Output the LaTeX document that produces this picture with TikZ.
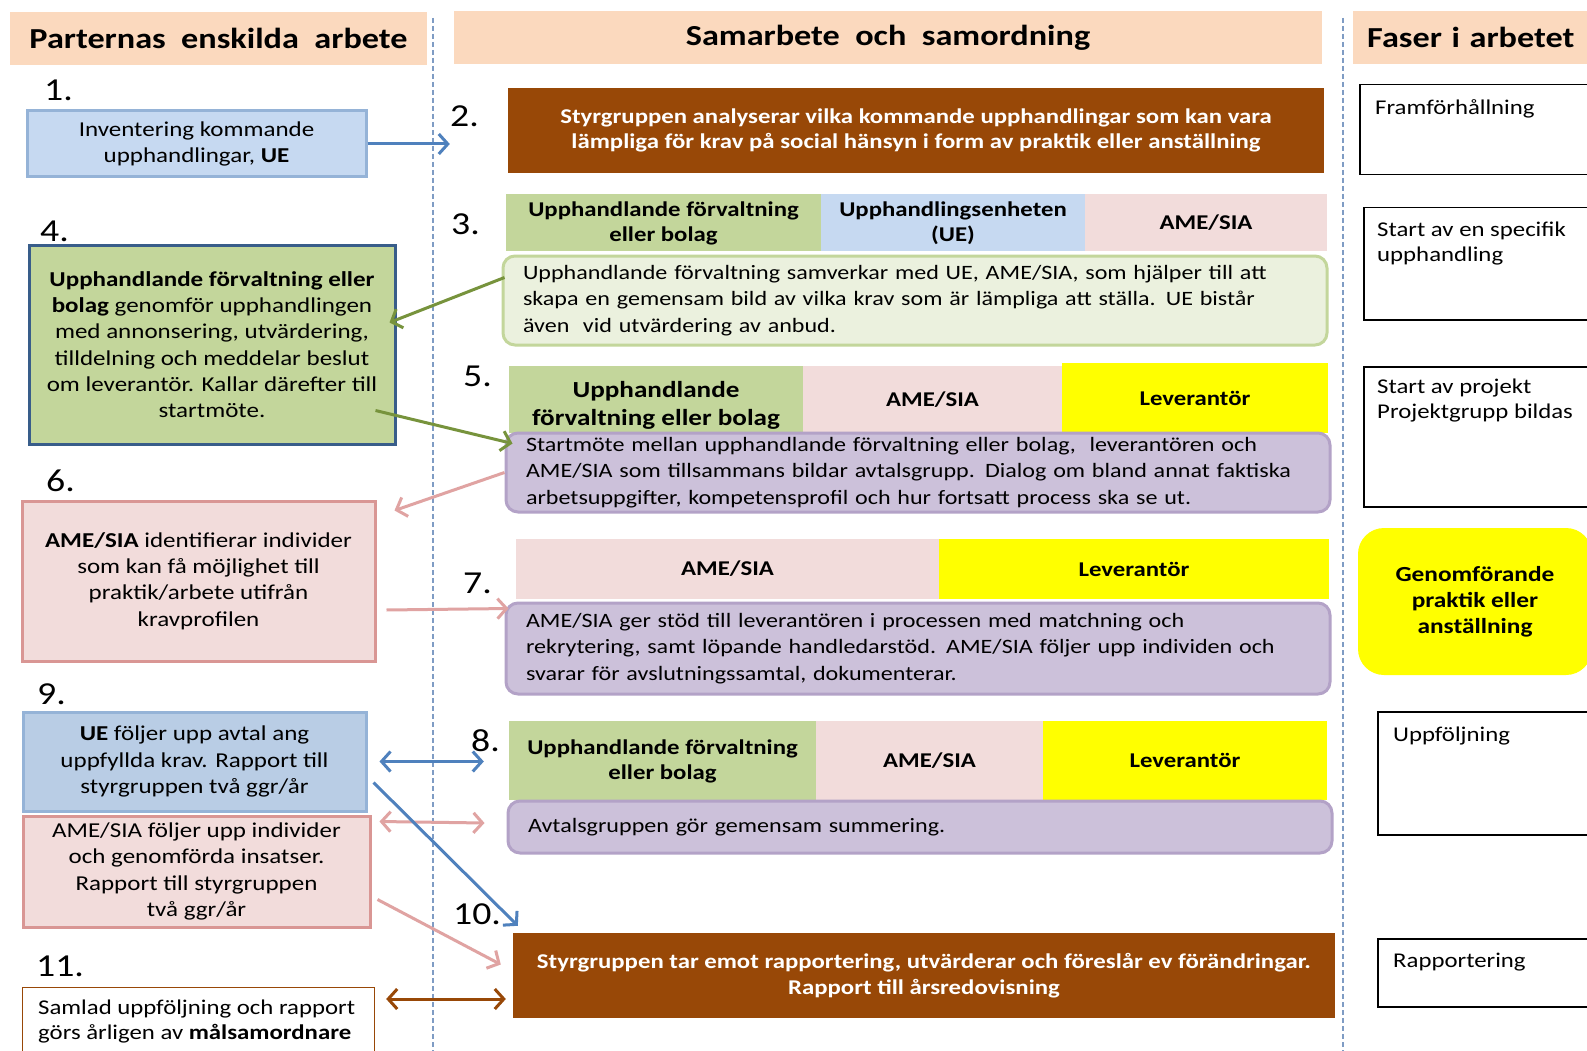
\documentclass[tikz,border=0pt]{standalone}
\usepackage{fontspec}
\setmainfont{Carlito}[FakeStretch=1.18]
\usetikzlibrary{arrows.meta,calc}
\definecolor{peach}{HTML}{FBD9BE}
\definecolor{brownc}{HTML}{984807}
\definecolor{greenc}{HTML}{C3D69B}
\definecolor{bluec}{HTML}{C6D9F1}
\definecolor{bluec2}{HTML}{B9CDE5}
\definecolor{bluebd}{HTML}{95B3D7}
\definecolor{pinkc}{HTML}{F2DCDB}
\definecolor{pinkbd}{HTML}{D99694}
\definecolor{yellowc}{HTML}{FFFF00}
\definecolor{lgreen}{HTML}{EBF1DE}
\definecolor{purplec}{HTML}{CCC1DA}
\definecolor{purplebd}{HTML}{B3A2C7}
\definecolor{navybd}{HTML}{385D8A}
\definecolor{arrblue}{HTML}{4F81BD}
\definecolor{arrgreen}{HTML}{77933C}
\definecolor{arrpink}{HTML}{E0A3A2}
\definecolor{dashc}{HTML}{7F9CC4}
\newcommand{\myfs}[2]{\fontsize{#1}{#2}\selectfont}
\begin{document}
\begin{tikzpicture}[x=1pt,y=-1pt,
  hdr/.style={fill=peach, inner sep=0pt, font=\myfs{29}{30}\bfseries},
  num/.style={anchor=base west, inner sep=0pt, font=\myfs{32}{32}},
  lbox/.style={line width=3pt, inner sep=0pt, align=center, font=\myfs{21.2}{26.3}},
  cell/.style={inner sep=0pt, align=center, font=\myfs{21}{25}\bfseries},
  rbox/.style={line width=3pt, rounded corners=12pt, inner xsep=20pt, inner ysep=0pt, align=left, font=\myfs{20.4}{26.3}},
  brbox/.style={fill=brownc, inner sep=0pt, align=center, text=white, font=\myfs{21}{25.5}\bfseries},
  phase/.style={draw=black, line width=1.5pt, fill=white, anchor=north west, inner sep=0pt},
  ptext/.style={anchor=north west, inner sep=0pt, align=left, font=\myfs{21}{25}},
  arr/.style={line width=3pt, -{Straight Barb[length=9pt,width=20pt]}},
  darr/.style={line width=3pt, {Straight Barb[length=9pt,width=20pt]}-{Straight Barb[length=9pt,width=20pt]}},
  sep/.style={draw=dashc, line width=1.3pt, dash pattern=on 5pt off 3pt}]
\useasboundingbox (0,0) rectangle (1587,1051);
\fill[white] (0,0) rectangle (1587,1051);

% separators
\coordinate (s1t) at (433,18);
\coordinate (s1b) at (433,1051);
\coordinate (s2t) at (1343,18);
\coordinate (s2b) at (1343,1051);
\draw[sep] (s1t) -- (s1b);
\draw[sep] (s2t) -- (s2b);

% headers
\node[hdr, minimum width=417pt, minimum height=53pt] (hL) at (218.5,38.5) {Parternas\ \ enskilda\ \ arbete};
\node[hdr, minimum width=868pt, minimum height=53pt] (hM) at (888,37.5) {Samarbete\ \ och\ \ samordning};
\node[hdr, anchor=west, text width=222pt, inner xsep=14pt, minimum height=53pt, align=left] (hR) at (1353,37.5) {Faser i arbetet};

% numbers
\node[num] (n1) at (44,101) {1.};
\node[num] (n2) at (450,127) {2.};
\node[num] (n3) at (451,234) {3.};
\node[num] (n4) at (40,241) {4.};
\node[num] (n5) at (463,386) {5.};
\node[num] (n6) at (46,491) {6.};
\node[num] (n7) at (463,593) {7.};
\node[num] (n8) at (471,751) {8.};
\node[num] (n9) at (37,704) {9.};
\node[num] (n10) at (453,924) {10.};
\node[num] (n11) at (36,976) {11.};

% left column
\node[lbox, draw=bluebd, fill=bluec, minimum width=339pt, minimum height=66pt] (b1) at (196.5,144)
  {Inventering kommande\\upphandlingar, \textbf{UE}};
\node[lbox, draw=navybd, fill=greenc, minimum width=366pt, minimum height=199pt] (b4) at (212,344.5)
  {\textbf{Upphandlande förvaltning eller}\\\textbf{bolag} genomför upphandlingen\\med annonsering, utvärdering,\\tilldelning och meddelar beslut\\om leverantör. Kallar därefter till\\startmöte.};
\node[lbox, draw=pinkbd, fill=pinkc, minimum width=353pt, minimum height=160pt] (b6) at (198.5,581)
  {\textbf{AME/SIA} identifierar individer\\som kan få möjlighet till\\praktik/arbete utifrån\\kravprofilen};
\node[lbox, draw=bluebd, fill=bluec2, minimum width=343pt, minimum height=99pt] (b9a) at (194.5,761.5)
  {\textbf{UE} följer upp avtal ang\\uppfyllda krav. Rapport till\\styrgruppen två ggr/år};
\node[lbox, draw=pinkbd, fill=pinkc, minimum width=347pt, minimum height=111pt] (b9b) at (196.5,871.5)
  {AME/SIA följer upp individer\\och genomförda insatser.\\Rapport till styrgruppen\\två ggr/år};
\node[lbox, draw=brownc, line width=1.2pt, fill=white, anchor=north west, minimum width=352pt, minimum height=80pt] (b11) at (22,987) {};
\node[anchor=north west, inner sep=0pt, align=left, font=\myfs{21}{25}] (t11) at (38,1000)
  {Samlad uppföljning och rapport\\görs årligen av \textbf{målsamordnare}};

% middle column
\node[brbox, minimum width=816pt, minimum height=85pt] (b2) at (916,130.5)
  {Styrgruppen analyserar vilka kommande upphandlingar som kan vara\\lämpliga för krav på social hänsyn i form av praktik eller anställning};

\node[cell, fill=greenc, minimum width=315pt, minimum height=57pt, text height=42pt, text depth=5pt] (r3a) at (663.5,222.5) {Upphandlande förvaltning\\eller bolag};
\node[cell, fill=bluec, minimum width=264pt, minimum height=57pt, text height=42pt, text depth=5pt] (r3b) at (953,222.5) {Upphandlingsenheten\\(UE)};
\node[cell, fill=pinkc, minimum width=242pt, minimum height=57pt] (r3c) at (1206,222.5) {AME/SIA};
\node[rbox, draw=greenc, fill=lgreen, text width=784pt, minimum height=89pt] (b3) at (915,300.5)
  {Upphandlande förvaltning samverkar med UE, AME/SIA, som hjälper till att\\skapa en gemensam bild av vilka krav som är lämpliga att ställa. UE bistår\\även\ \ vid utvärdering av anbud.};

\node[cell, fill=greenc, minimum width=294pt, minimum height=67pt, text height=57pt, text depth=5pt, font=\myfs{23}{28}\bfseries] (r5a) at (656,399.5) {Upphandlande\\förvaltning eller bolag};
\node[cell, fill=pinkc, minimum width=259pt, minimum height=67pt] (r5b) at (932.5,399.5) {AME/SIA};
\node[cell, fill=yellowc, minimum width=266pt, minimum height=70pt] (r5c) at (1195,398) {Leverantör};
\node[rbox, draw=purplebd, fill=purplec, text width=784pt, minimum height=79pt] (b5) at (918,472.5)
  {Startmöte mellan upphandlande förvaltning eller bolag,\ \ leverantören och\\AME/SIA som tillsammans bildar avtalsgrupp. Dialog om bland annat faktiska\\arbetsuppgifter, kompetensprofil och hur fortsatt process ska se ut.};

\node[cell, fill=pinkc, minimum width=423pt, minimum height=60pt] (r7a) at (727.5,569) {AME/SIA};
\node[cell, fill=yellowc, minimum width=390pt, minimum height=60pt] (r7b) at (1134,569) {Leverantör};
\node[rbox, draw=purplebd, fill=purplec, text width=784pt, minimum height=91pt] (b7) at (918,648.5)
  {AME/SIA ger stöd till leverantören i processen med matchning och\\rekrytering, samt löpande handledarstöd. AME/SIA följer upp individen och\\svarar för avslutningssamtal, dokumenterar.};

\node[cell, fill=greenc, minimum width=307pt, minimum height=79pt, text height=42pt, text depth=5pt] (r8a) at (662.5,760.5) {Upphandlande förvaltning\\eller bolag};
\node[cell, fill=pinkc, minimum width=227pt, minimum height=79pt] (r8b) at (929.5,760.5) {AME/SIA};
\node[cell, fill=yellowc, minimum width=284pt, minimum height=79pt] (r8c) at (1185,760.5) {Leverantör};
\node[rbox, draw=purplebd, fill=purplec, text width=784pt, minimum height=52pt] (b8) at (920,827)
  {Avtalsgruppen gör gemensam summering.};

\node[brbox, minimum width=822pt, minimum height=85pt] (b10) at (924,975.5)
  {Styrgruppen tar emot rapportering, utvärderar och föreslår ev förändringar.\\Rapport till årsredovisning};

% right column
\node[phase, minimum width=260pt, minimum height=90pt,
  label={[ptext, xshift=16pt, yshift=-15pt]north west:{Framförhållning}}] (f1) at (1359,84) {};
\node[phase, minimum width=260pt, minimum height=112pt,
  label={[ptext, xshift=14pt, yshift=-15pt]north west:{Start av en specifik\\upphandling}}] (f2) at (1363,207) {};
\node[phase, minimum width=260pt, minimum height=140pt,
  label={[ptext, xshift=14pt, yshift=-13pt]north west:{Start av projekt\\Projektgrupp bildas}}] (f3) at (1363,366) {};
\node[fill=yellowc, rounded corners=26pt, minimum width=234pt, minimum height=147pt, inner sep=0pt,
  align=center, font=\myfs{21.5}{26}\bfseries] (f4) at (1475,601.5) {Genomförande\\praktik eller\\anställning};
\node[phase, minimum width=240pt, minimum height=123pt,
  label={[ptext, xshift=16pt, yshift=-16pt]north west:{Uppföljning}}] (f5) at (1377,711) {};
\node[phase, minimum width=240pt, minimum height=68pt,
  label={[ptext, xshift=16pt, yshift=-15pt]north west:{Rapportering}}] (f6) at (1377,938) {};

% connectors
\draw[arr, arrblue, shorten >=58pt] (b1.east) -- (b1.east -| b2.west);
\draw[arr, arrgreen] ($(b3.north west)+(3,23)$) -- ($(b4.north east)+(-7,79)$);
\draw[arr, arrgreen] ($(b4.north east)+(-21,167)$) -- ($(b5.north west)+(8,12)$);
\draw[arr, arrpink] (b5.west) -- ($(b6.north east)+(18,11)$);
\draw[arr, arrpink] ($(b6.east)+(10,29)$) -- ($(b7.north west)+(4,7)$);
\draw[darr, arrblue, shorten <=12pt, shorten >=25pt] (b9a.east) -- (b9a.east -| r8a.west);
\draw[darr, arrpink] ($(b9b.north east)+(8,7)$) -- ($(b8.west)+(-22,-4)$);
\draw[arr, arrblue] ($(b9a.east)+(6,21)$) -- ($(b10.north west)+(5,-7)$);
\draw[arr, arrpink] ($(b9b.east)+(6,28)$) -- ($(b10.west)+(-12,-11)$);
\draw[darr, brownc] ($(b11.north east)+(11,12)$) -- ($(b10.west)+(-7,23.5)$);
\end{tikzpicture}
\end{document}
